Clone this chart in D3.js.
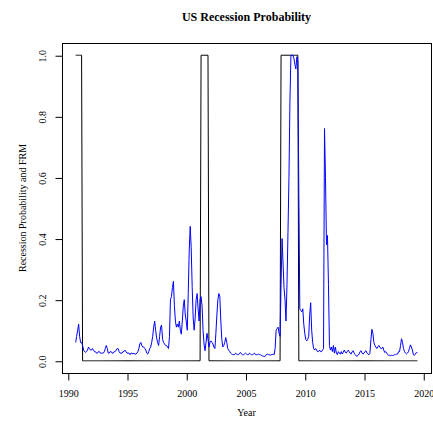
<!DOCTYPE html>
<html>
<head>
<meta charset="utf-8">
<script src="https://cdn.jsdelivr.net/npm/d3@7"></script>
<style>
  html, body { margin: 0; padding: 0; background: #fff; }
  svg { display: block; }
  text { font-family: "Liberation Serif", "Times New Roman", serif; fill: #000; }
</style>
</head>
<body>
<svg id="chart" width="433" height="428"></svg>
<script>
// ---- data (monthly, Sep 1990 .. Jul 2019) ----
const startYear = 1990;
const startMonth = 9; // September

// FRM-based recession probability (blue), one value per month
const frm = [
  /*1990*/ 0.06, 0.08, 0.10, 0.12,
  /*1991*/ 0.08, 0.06, 0.06, 0.05, 0.035, 0.03, 0.028, 0.03, 0.035, 0.045, 0.04, 0.035,
  /*1992*/ 0.035, 0.04, 0.035, 0.03, 0.03, 0.025, 0.025, 0.03, 0.03, 0.025, 0.025, 0.025,
  /*1993*/ 0.025, 0.03, 0.04, 0.05, 0.04, 0.025, 0.025, 0.03, 0.03, 0.025, 0.025, 0.03,
  /*1994*/ 0.03, 0.035, 0.04, 0.04, 0.03, 0.025, 0.025, 0.025, 0.03, 0.03, 0.035, 0.03,
  /*1995*/ 0.025, 0.025, 0.025, 0.02, 0.025, 0.025, 0.022, 0.025, 0.022, 0.022, 0.025, 0.03,
  /*1996*/ 0.04, 0.055, 0.06, 0.05, 0.045, 0.045, 0.04, 0.035, 0.025, 0.022, 0.03, 0.04,
  /*1997*/ 0.045, 0.06, 0.08, 0.11, 0.13, 0.10, 0.075, 0.06, 0.05, 0.08, 0.11, 0.117,
  /*1998*/ 0.07, 0.06, 0.055, 0.05, 0.05, 0.045, 0.04, 0.08, 0.20, 0.21, 0.24, 0.26,
  /*1999*/ 0.18, 0.13, 0.11, 0.12, 0.11, 0.13, 0.10, 0.087, 0.13, 0.18, 0.20, 0.15,
  /*2000*/ 0.13, 0.10, 0.22, 0.36, 0.44, 0.37, 0.24, 0.14, 0.10, 0.14, 0.20, 0.22,
  /*2001*/ 0.17, 0.13, 0.20, 0.21, 0.18, 0.10, 0.055, 0.033, 0.06, 0.09, 0.07, 0.045,
  /*2002*/ 0.06, 0.065, 0.06, 0.055, 0.045, 0.04, 0.09, 0.15, 0.20, 0.22, 0.21, 0.13,
  /*2003*/ 0.07, 0.045, 0.05, 0.06, 0.076, 0.06, 0.04, 0.035, 0.03, 0.025, 0.022, 0.02,
  /*2004*/ 0.02, 0.02, 0.025, 0.022, 0.02, 0.02, 0.025, 0.027, 0.022, 0.02, 0.02, 0.022,
  /*2005*/ 0.025, 0.022, 0.02, 0.02, 0.025, 0.022, 0.02, 0.02, 0.022, 0.025, 0.02, 0.02,
  /*2006*/ 0.02, 0.022, 0.02, 0.02, 0.018, 0.016, 0.015, 0.014, 0.015, 0.02, 0.022, 0.02,
  /*2007*/ 0.02, 0.018, 0.02, 0.02, 0.022, 0.02, 0.04, 0.10, 0.105, 0.11, 0.09, 0.08,
  /*2008*/ 0.25, 0.40, 0.32, 0.24, 0.20, 0.13, 0.25, 0.42, 0.60, 0.85, 1.00, 1.00,
  /*2009*/ 1.00, 0.99, 0.97, 0.955, 0.995, 0.98, 0.55, 0.17, 0.165, 0.16, 0.17, 0.12,
  /*2010*/ 0.09, 0.07, 0.065, 0.07, 0.08, 0.15, 0.19, 0.10, 0.06, 0.04, 0.035, 0.04,
  /*2011*/ 0.035, 0.03, 0.03, 0.035, 0.03, 0.03, 0.035, 0.04, 0.76, 0.60, 0.38, 0.41,
  /*2012*/ 0.25, 0.05, 0.035, 0.045, 0.03, 0.05, 0.025, 0.045, 0.025, 0.02, 0.03, 0.025,
  /*2013*/ 0.022, 0.03, 0.022, 0.028, 0.035, 0.028, 0.025, 0.03, 0.035, 0.03, 0.025, 0.022,
  /*2014*/ 0.03, 0.033, 0.025, 0.02, 0.016, 0.015, 0.018, 0.022, 0.03, 0.033, 0.025, 0.022,
  /*2015*/ 0.025, 0.03, 0.033, 0.025, 0.022, 0.02, 0.025, 0.07, 0.103, 0.09, 0.06, 0.05,
  /*2016*/ 0.045, 0.04, 0.045, 0.05, 0.045, 0.04, 0.04, 0.045, 0.035, 0.027, 0.03, 0.025,
  /*2017*/ 0.02, 0.018, 0.018, 0.017, 0.018, 0.017, 0.018, 0.02, 0.02, 0.022, 0.022, 0.03,
  /*2018*/ 0.03, 0.05, 0.072, 0.06, 0.04, 0.03, 0.025, 0.022, 0.025, 0.03, 0.04, 0.052,
  /*2019*/ 0.045, 0.035, 0.02, 0.018, 0.022, 0.027, 0.027
];

// NBER recession indicator (black), one value per month
const recession = [
  /*1990*/ 1, 1, 1, 1,
  /*1991*/ 1, 1, 1, 0, 0, 0, 0, 0, 0, 0, 0, 0,
  /*1992*/ 0, 0, 0, 0, 0, 0, 0, 0, 0, 0, 0, 0,
  /*1993*/ 0, 0, 0, 0, 0, 0, 0, 0, 0, 0, 0, 0,
  /*1994*/ 0, 0, 0, 0, 0, 0, 0, 0, 0, 0, 0, 0,
  /*1995*/ 0, 0, 0, 0, 0, 0, 0, 0, 0, 0, 0, 0,
  /*1996*/ 0, 0, 0, 0, 0, 0, 0, 0, 0, 0, 0, 0,
  /*1997*/ 0, 0, 0, 0, 0, 0, 0, 0, 0, 0, 0, 0,
  /*1998*/ 0, 0, 0, 0, 0, 0, 0, 0, 0, 0, 0, 0,
  /*1999*/ 0, 0, 0, 0, 0, 0, 0, 0, 0, 0, 0, 0,
  /*2000*/ 0, 0, 0, 0, 0, 0, 0, 0, 0, 0, 0, 0,
  /*2001*/ 0, 0, 0, 1, 1, 1, 1, 1, 1, 1, 1, 0,
  /*2002*/ 0, 0, 0, 0, 0, 0, 0, 0, 0, 0, 0, 0,
  /*2003*/ 0, 0, 0, 0, 0, 0, 0, 0, 0, 0, 0, 0,
  /*2004*/ 0, 0, 0, 0, 0, 0, 0, 0, 0, 0, 0, 0,
  /*2005*/ 0, 0, 0, 0, 0, 0, 0, 0, 0, 0, 0, 0,
  /*2006*/ 0, 0, 0, 0, 0, 0, 0, 0, 0, 0, 0, 0,
  /*2007*/ 0, 0, 0, 0, 0, 0, 0, 0, 0, 0, 0, 0,
  /*2008*/ 1, 1, 1, 1, 1, 1, 1, 1, 1, 1, 1, 1,
  /*2009*/ 1, 1, 1, 1, 1, 1, 0, 0, 0, 0, 0, 0,
  /*2010*/ 0, 0, 0, 0, 0, 0, 0, 0, 0, 0, 0, 0,
  /*2011*/ 0, 0, 0, 0, 0, 0, 0, 0, 0, 0, 0, 0,
  /*2012*/ 0, 0, 0, 0, 0, 0, 0, 0, 0, 0, 0, 0,
  /*2013*/ 0, 0, 0, 0, 0, 0, 0, 0, 0, 0, 0, 0,
  /*2014*/ 0, 0, 0, 0, 0, 0, 0, 0, 0, 0, 0, 0,
  /*2015*/ 0, 0, 0, 0, 0, 0, 0, 0, 0, 0, 0, 0,
  /*2016*/ 0, 0, 0, 0, 0, 0, 0, 0, 0, 0, 0, 0,
  /*2017*/ 0, 0, 0, 0, 0, 0, 0, 0, 0, 0, 0, 0,
  /*2018*/ 0, 0, 0, 0, 0, 0, 0, 0, 0, 0, 0, 0,
  /*2019*/ 0, 0, 0, 0, 0, 0, 0
];

const xTicks = [1990, 1995, 2000, 2005, 2010, 2015, 2020];
const yTicks = [0.0, 0.2, 0.4, 0.6, 0.8, 1.0];

const title = "US Recession Probability";
const xLabel = "Year";
const yLabel = "Recession Probability and FRM";

// ---- layout ----
const svg = d3.select("#chart");
const plot = { left: 62, right: 431, top: 43, bottom: 373 };

const t = i => startYear + (startMonth - 1) / 12 + i / 12;
const n = Math.min(frm.length, recession.length);
const tMin = t(0), tMax = t(n - 1);
const xPad = (tMax - tMin) * 0.04;

const x = d3.scaleLinear().domain([tMin - xPad, tMax + xPad]).range([plot.left, plot.right]);
const y = d3.scaleLinear().domain([-0.04, 1.04]).range([plot.bottom, plot.top]);

// recession step line
const line = d3.line().x(d => x(d.t)).y(d => y(d.v));
const recData = recession.map((v, i) => ({ t: t(i), v }));
const frmData = frm.map((v, i) => ({ t: t(i), v }));

svg.append("path")
  .attr("d", line(recData))
  .attr("fill", "none")
  .attr("stroke", "#000")
  .attr("stroke-width", 1);

svg.append("path")
  .attr("d", line(frmData))
  .attr("fill", "none")
  .attr("stroke", "#0000ff")
  .attr("stroke-width", 1)
  .attr("stroke-linejoin", "round");

// box
svg.append("rect")
  .attr("x", plot.left + 0.5).attr("y", plot.top + 0.5)
  .attr("width", plot.right - plot.left).attr("height", plot.bottom - plot.top)
  .attr("fill", "none").attr("stroke", "#000").attr("stroke-width", 1);

// x axis
const xAxis = d3.axisBottom(x).tickValues(xTicks).tickSize(7).tickPadding(10)
  .tickFormat(d3.format("d"));
const gx = svg.append("g").attr("transform", `translate(0.5,${plot.bottom + 0.5})`).call(xAxis);
gx.select(".domain").remove();
gx.selectAll(".tick line").attr("stroke", "#000");
gx.selectAll(".tick text").attr("font-size", 10).attr("dy", null).attr("y", 23.5)
  .style("font-family", "'Liberation Serif', serif");

// y axis
const yAxis = d3.axisLeft(y).tickValues(yTicks).tickSize(7).tickFormat(d3.format(".1f"));
const gy = svg.append("g").attr("transform", `translate(${plot.left + 0.5},0.5)`).call(yAxis);
gy.select(".domain").remove();
gy.selectAll(".tick line").attr("stroke", "#000");
gy.selectAll(".tick text")
  .attr("font-size", 10)
  .attr("x", null).attr("dy", null)
  .attr("text-anchor", "middle")
  .attr("transform", "translate(-17,0) rotate(-90)")
  .style("font-family", "'Liberation Serif', serif");

// title
svg.append("text")
  .attr("x", (plot.left + plot.right) / 2).attr("y", 20.5)
  .attr("text-anchor", "middle")
  .attr("font-size", 12).attr("font-weight", "bold")
  .text(title);

// x label
svg.append("text")
  .attr("x", (plot.left + plot.right) / 2).attr("y", 416)
  .attr("text-anchor", "middle")
  .attr("font-size", 10)
  .text(xLabel);

// y label
svg.append("text")
  .attr("transform", `translate(26,${(plot.top + plot.bottom) / 2}) rotate(-90)`)
  .attr("text-anchor", "middle")
  .attr("font-size", 10)
  .text(yLabel);
</script>
</body>
</html>
